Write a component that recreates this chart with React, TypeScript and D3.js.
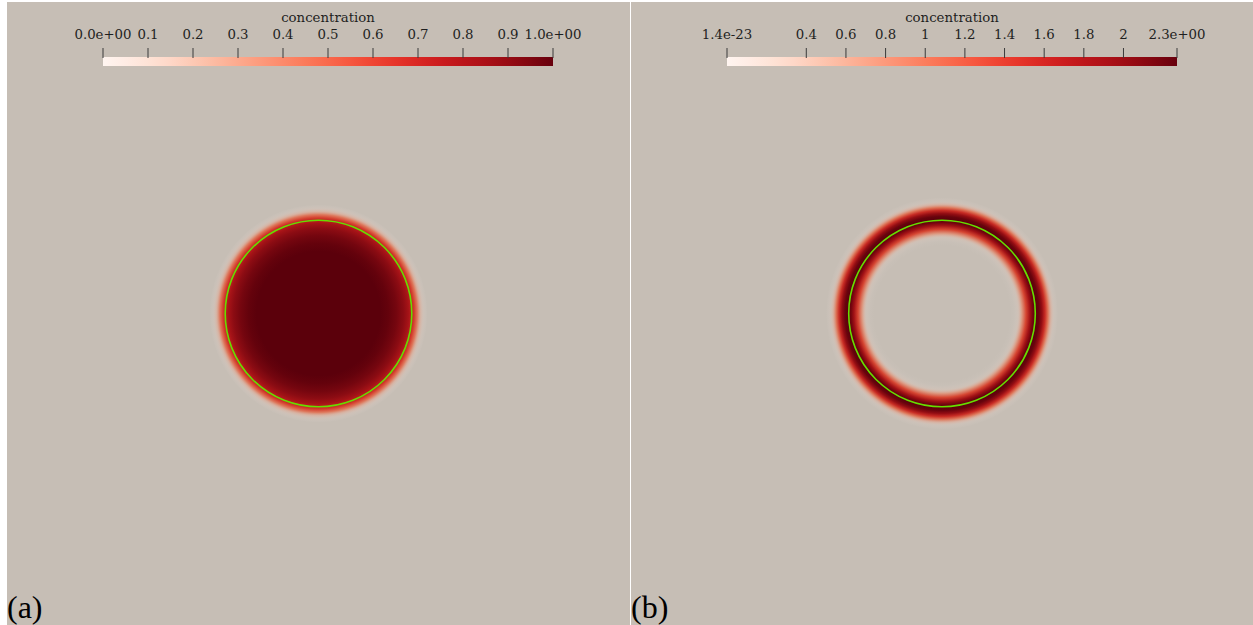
import React from "react";
import * as d3 from "d3";

// ---- data ----
const panelLabels = ["(a)", "(b)"];
const barTitle = "concentration";

const ticksA = [0, 0.1, 0.2, 0.3, 0.4, 0.5, 0.6, 0.7, 0.8, 0.9, 1.0];
const tickLabelsA = ["0.0e+00", "0.1", "0.2", "0.3", "0.4", "0.5", "0.6", "0.7", "0.8", "0.9", "1.0e+00"];
const domainA = [0, 1.0];

const ticksB = [1.4e-23, 0.4, 0.6, 0.8, 1, 1.2, 1.4, 1.6, 1.8, 2, 2.27];
const tickLabelsB = ["1.4e-23", "0.4", "0.6", "0.8", "1", "1.2", "1.4", "1.6", "1.8", "2", "2.3e+00"];
const domainB = [1.4e-23, 2.27];

// radial concentration profiles (radius in field units, value)
const radiusA = [0, 62, 70, 78, 85, 90, 93, 96, 99, 102, 105, 109];
const valueA = [1, 1, 0.98, 0.94, 0.88, 0.8, 0.72, 0.58, 0.4, 0.22, 0.1, 0];
const radiusB = [0, 68, 72, 76, 80, 84, 88, 91, 94, 97, 100, 103, 106, 109, 112, 116];
const valueB = [0, 0, 0.06, 0.25, 0.7, 1.3, 1.85, 2.15, 2.27, 2.2, 1.95, 1.5, 0.95, 0.5, 0.18, 0];
const interfaceRadius = 93.3;

const W = 1253, H = 625;
const BG = "#c6beb5";

type PanelProps = {
  idx: number; x0: number; x1: number; y0: number; y1: number;
  ticks: number[]; labels: string[]; domain: number[];
  radius: number[]; values: number[];
};

function Panel({ idx, x0, x1, y0, y1, ticks, labels, domain, radius, values }: PanelProps) {
  const cx = (x0 + x1) / 2;
  const cy = (y0 + y1) / 2;
  const barX0 = x0 + 96;
  const barX1 = x0 + 546;
  const xs = d3.scaleLinear().domain(domain).range([barX0, barX1]);
  const norm = d3.scaleLinear().domain(domain).range([0, 1]).clamp(true);
  const rMax = d3.max(radius) as number;
  const rs = d3.scaleLinear().domain([0, rMax]).range([0, 1]);
  const fieldColor = (v: number) => {
    const c = d3.color(d3.interpolateReds(norm(v)))!.darker(0.35);
    return c.formatHex();
  };
  const alpha = (v: number) => Math.min(1, norm(v) * 3);
  const gid = `field${idx}`;
  const bid = `bar${idx}`;
  const barStops = d3.range(0, 1.0001, 0.05);
  return (
    <g>
      <defs>
        <radialGradient id={gid} gradientUnits="userSpaceOnUse" cx={cx} cy={cy} r={rMax}>
          {radius.map((r, i) => (
            <stop key={i} offset={rs(r)} stopColor={fieldColor(values[i])} stopOpacity={alpha(values[i])} />
          ))}
        </radialGradient>
        <linearGradient id={bid} x1="0" x2="1" y1="0" y2="0">
          {barStops.map((t, i) => (
            <stop key={i} offset={t} stopColor={d3.interpolateReds(t)} />
          ))}
        </linearGradient>
      </defs>
      <rect x={x0} y={y0} width={x1 - x0} height={y1 - y0} fill={BG} />
      <circle cx={cx} cy={cy} r={rMax} fill={`url(#${gid})`} />
      <circle cx={cx} cy={cy} r={interfaceRadius} fill="none" stroke="#66dd00" strokeWidth={1.6} />
      <text x={(barX0 + barX1) / 2} y={22} textAnchor="middle" fontFamily="DejaVu Serif" fontSize={13.3} fill="#1e1e1e">
        {barTitle}
      </text>
      <rect x={barX0} y={57} width={barX1 - barX0} height={9} fill={`url(#${bid})`} />
      {ticks.map((t, i) => (
        <g key={i}>
          <line x1={xs(t)} x2={xs(t)} y1={48} y2={58} stroke="#3a3a3a" strokeWidth={1} />
          <text x={xs(t)} y={39} textAnchor="middle" fontFamily="DejaVu Serif" fontSize={13.3} fill="#1e1e1e">
            {labels[i]}
          </text>
        </g>
      ))}
      <text x={x0} y={618} fontFamily="Liberation Serif, Times New Roman, serif" fontSize={32} fill="#000">
        {panelLabels[idx]}
      </text>
    </g>
  );
}

export default function App() {
  return (
    <svg width={W} height={H} style={{ position: "fixed", left: 0, top: 0, display: "block" }}>
      <rect x={0} y={0} width={W} height={H} fill="#ffffff" />
      <Panel idx={0} x0={7} x1={630} y0={2} y1={625} ticks={ticksA} labels={tickLabelsA} domain={domainA} radius={radiusA} values={valueA} />
      <Panel idx={1} x0={631} x1={1253} y0={2} y1={625} ticks={ticksB} labels={tickLabelsB} domain={domainB} radius={radiusB} values={valueB} />
    </svg>
  );
}
